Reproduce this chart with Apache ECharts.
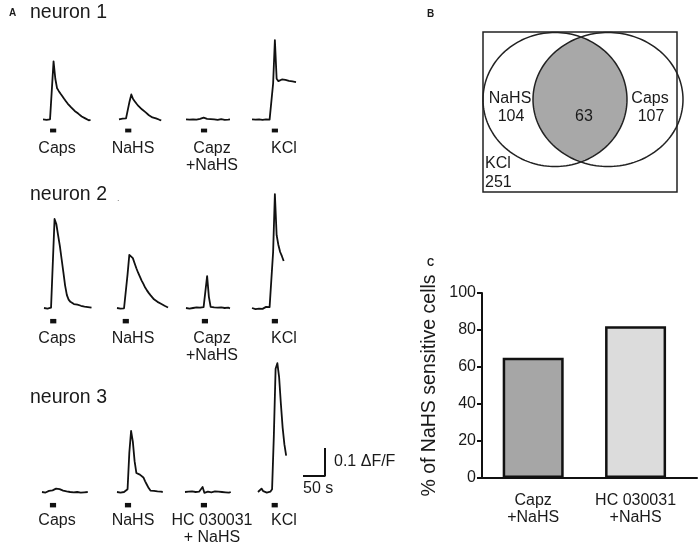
<!DOCTYPE html>
<html><head><meta charset="utf-8">
<script src="https://cdn.jsdelivr.net/npm/echarts@6/dist/echarts.min.js"></script>
<style>html,body{margin:0;padding:0;background:#fff}#c{width:699px;height:545px}</style>
</head><body><div id="c"></div>
<script>
// ---------- DATA ----------
// sampling step of all Ca-imaging traces (seconds); values are dF/F
const STEP_S = 4;
// neuron 1
const n1Caps = [0,0.003,-0.002,0.002,0,0.004,0.243,0.17,0.13,0.118,0.107,0.097,0.086,0.076,0.066,0.058,0.05,0.042,0.035,0.03,0.024,0.018,0.012,0.01,0.004,0.003,-0.004,-0.002];
const n1NaHS = [0,-0.003,0.003,0,0.004,0.002,0.075,0.104,0.085,0.075,0.065,0.056,0.05,0.042,0.035,0.03,0.023,0.017,0.012,0.008,0.003,0.004,-0.003,-0.002,-0.004];
const n1Capz = [0,0.002,-0.001,0.001,0,0.002,-0.001,0,0.002,0.004,0.007,0.005,0.002,0,0.001,-0.001,0,0.001,-0.002,0,0.001,-0.001,-0.002,0,-0.001,0];
const n1KCl = [0,0.002,-0.001,0.001,0,0.003,-0.002,0.001,0,0.002,-0.001,0.001,0.15,0.332,0.17,0.16,0.163,0.167,0.168,0.165,0.164,0.161,0.162,0.159,0.158,0.156];
// neuron 2
const n2Caps = [0,0.003,-0.002,0.004,0.001,0.005,0.318,0.3,0.26,0.222,0.175,0.128,0.08,0.046,0.03,0.022,0.016,0.014,0.01,0.012,0.006,0.008,0.003,0.005,0.001,0.003,-0.001,0.001];
const n2NaHS = [0,0.002,-0.002,0.001,-0.001,0.002,0.12,0.19,0.195,0.178,0.16,0.142,0.126,0.112,0.098,0.086,0.073,0.063,0.054,0.046,0.039,0.031,0.027,0.022,0.018,0.015,0.01,0.008,0.003,0.002];
const n2Capz = [0,0.003,-0.002,0.002,0,-0.003,0.002,0.004,0.001,0.006,0.003,0.006,0.114,0.04,0.004,-0.002,0.002,-0.003,0.001,-0.001,0.002,-0.003,0,-0.002,0.001,-0.001];
const n2KCl = [0,0.004,-0.004,0.003,-0.002,0.005,-0.003,0.002,0.004,-0.002,0.003,0.005,0.2,0.407,0.26,0.225,0.2,0.185,0.168];
// neuron 3
const n3Caps = [0,0.003,-0.002,0.002,0.004,0.001,0.006,0.009,0.012,0.014,0.01,0.008,0.005,0.006,0.002,0.004,0,0.003,-0.001,0.002,0,0.003,-0.002,0.001,-0.001,0.002,0];
const n3NaHS = [0,0.002,-0.002,0.003,0,0.002,0.01,0.14,0.218,0.18,0.11,0.068,0.064,0.062,0.058,0.052,0.038,0.026,0.014,0.005,0.002,0.004,0,0.002,-0.001,0.001,0];
const n3HC = [0,0.002,0.001,-0.001,0.002,0.003,0,0.002,0.001,-0.002,0.018,-0.003,0.004,0.001,0.002,-0.001,0,0.002,-0.002,0.001,-0.001,0,-0.002,-0.001,0.001,-0.002,0];
const n3KCl = [0,0.004,0.012,0.003,0.008,-0.002,0.004,0.001,0.01,0.2,0.44,0.46,0.41,0.315,0.23,0.17,0.13];
// stimulus onset (s, from trace start) and duration
const n1Stim = [16, 14, 34, 45];
const n2Stim = [14, 13, 36, 45];
const n3Stim = [18, 18, 36, 31];
const STIM_DUR = 14;
const rowTitles = ['neuron 1', 'neuron 2', 'neuron 3'];
const labels12 = [['Caps'], ['NaHS'], ['Capz', '+NaHS'], ['KCl']];
const labels3 = [['Caps'], ['NaHS'], ['HC 030031', '+ NaHS'], ['KCl']];
// scale bar
const scaleDff = 0.1, scaleSec = 50;
// panel B (Venn counts)
const vennNaHS = 104, vennBoth = 63, vennCaps = 107, vennKCl = 251;
// panel C
const barCategories = ['Capz\n+NaHS', 'HC 030031\n+NaHS'];
const barValues = [65, 82];
const yTicks = [0, 20, 40, 60, 80, 100];

// ---------- LAYOUT / STYLE ----------
const PX_PER_S = 0.44, PX_PER_DFF = 280, YMIN = -0.08, YMAX = 0.5;
const FONT = '"Liberation Sans", Arial, Helvetica, sans-serif';
const INK = '#1a1a1a';
const rows = [
  {titleY: 13, base: 116, lefts: [43, 119, 186, 252], traces: [n1Caps, n1NaHS, n1Capz, n1KCl], stim: n1Stim, labels: labels12, labelY: 149},
  {titleY: 195, base: 308, lefts: [44, 117, 186, 252], traces: [n2Caps, n2NaHS, n2Capz, n2KCl], stim: n2Stim, labels: labels12, labelY: 339},
  {titleY: 398, base: 492, lefts: [42, 117, 185, 258], traces: [n3Caps, n3NaHS, n3HC, n3KCl], stim: n3Stim, labels: labels3, labelY: 521}
];
const labelX = [57, 133, 212, 284];

const grid = [], xAxis = [], yAxis = [], series = [], graphic = [];
function txt(x, y, s, size, opt) {
  opt = opt || {};
  graphic.push({type: 'text', x: x, y: y, silent: true, style: {
    text: s, fontSize: size, fontFamily: FONT, fontWeight: opt.bold ? 'bold' : 'normal',
    fill: opt.fill || INK, align: opt.align || 'left', verticalAlign: 'middle',
    textAlign: opt.align || 'left', textVerticalAlign: 'middle'}});
}

rows.forEach(function (r, ri) {
  txt(30, r.titleY, rowTitles[ri], 19.5);
  r.traces.forEach(function (tr, ci) {
    const gi = grid.length;
    const n = tr.length;
    grid.push({left: r.lefts[ci], top: r.base - YMAX * PX_PER_DFF,
      width: (n - 1) * STEP_S * PX_PER_S, height: (YMAX - YMIN) * PX_PER_DFF});
    xAxis.push({type: 'value', gridIndex: gi, min: 0, max: (n - 1) * STEP_S, show: false});
    yAxis.push({type: 'value', gridIndex: gi, min: YMIN, max: YMAX, show: false});
    const s0 = r.stim[ci];
    series.push({type: 'line', xAxisIndex: gi, yAxisIndex: gi, clip: false,
      data: tr.map(function (v, i) { return [i * STEP_S, v]; }),
      showSymbol: false, symbol: 'none', silent: true,
      lineStyle: {color: '#111', width: 1.8, join: 'round'},
      markArea: {silent: true, itemStyle: {color: '#111', opacity: 1},
        data: [[{xAxis: s0, yAxis: -0.055}, {xAxis: s0 + STIM_DUR, yAxis: -0.039}]]}});
    r.labels[ci].forEach(function (line, li) {
      txt(labelX[ci], r.labelY + li * 17, line, 16, {align: 'center'});
    });
  });
});
txt(117, 199, '.', 9, {fill: '#777'});

// scale bar drawn through its own scaled grid
(function () {
  const gi = grid.length;
  grid.push({left: 303, top: 476 - scaleDff * PX_PER_DFF, width: scaleSec * PX_PER_S, height: scaleDff * PX_PER_DFF});
  xAxis.push({type: 'value', gridIndex: gi, min: 0, max: scaleSec, show: false});
  yAxis.push({type: 'value', gridIndex: gi, min: 0, max: scaleDff, show: false});
  series.push({type: 'line', xAxisIndex: gi, yAxisIndex: gi, clip: false, showSymbol: false, symbol: 'none',
    data: [[0, 0], [scaleSec, 0], [scaleSec, scaleDff]], lineStyle: {color: '#111', width: 2}});
  txt(334, 462, scaleDff + ' \u0394F/F', 16);
  txt(303, 489, scaleSec + ' s', 16);
})();

// panel letters
txt(9, 13, 'A', 10, {bold: true});
txt(427, 14, 'B', 10, {bold: true});
txt(427, 263, 'C', 10, {bold: true});

// ---------- Panel B: Venn ----------
(function () {
  const L = {cx: 555, cy: 99.5, rx: 72, ry: 67};
  const R = {cx: 608, cy: 99.5, rx: 75, ry: 67};
  function arc(e, a0, a1, k) {
    const pts = [];
    for (let i = 0; i <= k; i++) {
      const a = a0 + (a1 - a0) * i / k;
      pts.push([e.cx + e.rx * Math.cos(a), e.cy + e.ry * Math.sin(a)]);
    }
    return pts;
  }
  const xi = (L.cx * R.rx + R.cx * L.rx) / (L.rx + R.rx);
  const t1 = Math.acos((xi - L.cx) / L.rx);
  const p1 = Math.acos((R.cx - xi) / R.rx);
  const lens = arc(L, -t1, t1, 60).concat(arc(R, Math.PI - p1, Math.PI + p1, 60));
  graphic.push({type: 'polygon', silent: true, shape: {points: lens}, style: {fill: '#a8a8a8', stroke: null}});
  [L, R].forEach(function (e) {
    graphic.push({type: 'polygon', silent: true, shape: {points: arc(e, 0, Math.PI * 2, 160)},
      style: {fill: null, stroke: '#222', lineWidth: 1.5}});
  });
  graphic.push({type: 'rect', silent: true, shape: {x: 483, y: 32, width: 194, height: 160},
    style: {fill: null, stroke: '#222', lineWidth: 1.5}});
  txt(510, 99, 'NaHS', 16, {align: 'center'});
  txt(511, 117, String(vennNaHS), 16, {align: 'center'});
  txt(584, 117, String(vennBoth), 16, {align: 'center'});
  txt(650, 99, 'Caps', 16, {align: 'center'});
  txt(651, 117, String(vennCaps), 16, {align: 'center'});
  txt(485, 164, 'KCl', 16);
  txt(485, 183, String(vennKCl), 16);
})();

// ---------- Panel C: bars ----------
(function () {
  const gi = grid.length;
  const barColors = ['#a6a6a6', '#dcdcdc'];
  grid.push({left: 482, top: 293, width: 215, height: 185});
  xAxis.push({type: 'value', gridIndex: gi, min: 0, max: 2.1, interval: 0.5,
    axisLine: {show: true, onZero: false, lineStyle: {color: '#111', width: 2}},
    axisTick: {show: false}, splitLine: {show: false},
    axisLabel: {show: true, margin: 14, fontSize: 16, lineHeight: 17, fontFamily: FONT, color: INK,
      showMinLabel: true, showMaxLabel: false,
      formatter: function (v) {
        const k = v - 0.5;
        if (Math.abs(k - Math.round(k)) < 1e-6 && barCategories[Math.round(k)] !== undefined) return barCategories[Math.round(k)];
        return '';
      }}});
  yAxis.push({type: 'value', gridIndex: gi, min: yTicks[0], max: yTicks[yTicks.length - 1], interval: yTicks[1] - yTicks[0],
    axisLine: {show: true, lineStyle: {color: '#111', width: 2}},
    axisTick: {show: true, inside: false, length: 5, lineStyle: {color: '#111', width: 2}},
    splitLine: {show: false},
    axisLabel: {fontSize: 16, fontFamily: FONT, color: INK, margin: 6},
    name: '% of NaHS sensitive cells', nameLocation: 'middle', nameRotate: 90, nameGap: 42,
    nameTextStyle: {fontSize: 19.5, fontFamily: FONT, color: INK}});
  series.push({type: 'bar', xAxisIndex: gi, yAxisIndex: gi, barWidth: 61, silent: true,
    data: barValues.map(function (v, i) {
      return {value: [i + 0.5, v], itemStyle: {color: barColors[i], borderColor: '#111', borderWidth: 2.5}};
    })});
})();

const chart = echarts.init(document.getElementById('c'), null, {renderer: 'canvas'});
chart.setOption({animation: false, backgroundColor: '#fff', grid: grid, xAxis: xAxis, yAxis: yAxis, series: series, graphic: graphic});
</script></body></html>
